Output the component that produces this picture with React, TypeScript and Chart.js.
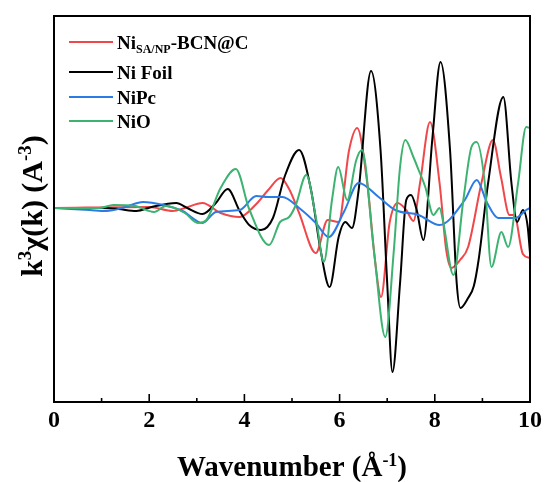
import React, { useEffect, useRef } from 'react';
import { Chart, registerables } from 'chart.js';

Chart.register(...registerables);

const FAMILY = '"Liberation Serif", "Times New Roman", Times, serif';

// Series: Ni_SA/NP-BCN@C (red)
const kRed = [0, 2.0, 2.5, 2.75, 3.12, 3.5, 3.9, 4.25, 4.5, 4.76, 4.95, 5.15, 5.5, 5.75, 5.98, 6.2, 6.37, 6.58, 6.75, 6.87, 7.05, 7.22, 7.4, 7.55, 7.69, 7.9, 8.1, 8.24, 8.35, 8.53, 8.7, 8.98, 9.22, 9.39, 9.57, 9.67, 9.85, 10];
const yRed = [0, 0.1, -0.3, 0, 0.5, -0.5, -0.9, 0.4, 1.8, 3.0, 1.8, -0.5, -4.5, -1.2, -1.4, 5.8, 8.0, 2.5, -5.5, -8.9, -1.5, 0.5, -0.2, -1.3, 2.5, 8.6, 2.5, -4.2, -6.0, -5.2, -3.9, 2.5, 6.8, 3.1, -0.7, -0.7, -4.6, -5.0];

// Series: Ni Foil (black)
const kBlack = [0, 1.0, 1.35, 1.73, 2.05, 2.57, 2.8, 3.12, 3.4, 3.65, 3.9, 4.1, 4.35, 4.6, 4.85, 5.15, 5.4, 5.6, 5.79, 5.98, 6.12, 6.26, 6.4, 6.66, 6.86, 7.0, 7.11, 7.27, 7.4, 7.5, 7.62, 7.76, 7.95, 8.12, 8.32, 8.46, 8.54, 8.7, 8.82, 8.92, 9.12, 9.44, 9.61, 9.73, 9.85, 9.95, 10];
const yBlack = [0, 0, -0.1, -0.3, 0.1, 0.5, 0, -0.6, 0.5, 1.9, -0.3, -1.7, -2.2, -1.0, 3.2, 5.8, 1.8, -4.2, -7.9, -2.9, -1.4, -2.0, 1.8, 13.7, 5.8, -7.5, -16.4, -7.5, 0.8, 1.3, -0.2, -3.2, 7.0, 14.6, 5.8, -7.5, -10.0, -9.0, -7.8, -5.2, 2.5, 11.1, 2.5, -1.4, -0.2, -1.8, -4.5];

// Series: NiPc (blue)
const kBlue = [0, 0.75, 1.1, 1.5, 1.87, 2.3, 2.7, 3.12, 3.4, 3.9, 4.25, 4.5, 4.8, 5.15, 5.5, 5.77, 6.1, 6.4, 6.82, 7.17, 7.66, 8.1, 8.63, 8.88, 9.1, 9.33, 9.7, 9.92, 10];
const yBlue = [0, -0.2, -0.3, 0.1, 0.6, 0.3, -0.3, -1.5, -0.4, -0.2, 1.2, 1.1, 1.1, 0, -1.5, -2.9, -0.3, 2.5, 1.1, -0.2, -0.7, -1.7, 0.8, 2.8, 0.5, -1.0, -1.0, -0.2, 0];

// Series: NiO (green)
const kGreen = [0, 0.95, 1.25, 1.7, 2.1, 2.35, 2.75, 3.02, 3.2, 3.5, 3.82, 4.1, 4.52, 4.75, 4.94, 5.08, 5.3, 5.5, 5.67, 5.84, 5.97, 6.16, 6.35, 6.47, 6.72, 6.96, 7.14, 7.27, 7.38, 7.55, 7.66, 7.8, 7.97, 8.1, 8.18, 8.39, 8.6, 8.77, 8.88, 9.05, 9.19, 9.4, 9.54, 9.75, 9.92, 10];
const yGreen = [0, 0, 0.3, 0.2, -0.4, 0.2, -0.5, -1.5, -1.2, 2.0, 3.9, -0.1, -3.7, -1.4, -0.9, 0.3, 3.3, -0.9, -5.4, 0.8, 4.1, 0.8, 4.8, 5.8, -4.2, -12.9, -4.2, 4.1, 6.8, 5.1, 3.8, 2.1, -0.7, 0, -1.5, -6.7, 0.8, 6.1, 6.6, 2.5, -5.9, -2.4, -3.9, 2.5, 8.1, 8.0];

const xTicks = [0, 2, 4, 6, 8, 10];
const minorTicks = [1, 3, 5, 7, 9];

const COLORS = { red: '#f0474b', black: '#000000', blue: '#2b7be4', green: '#3cb371' };

type Seg = { t: string; s?: 'sup' | 'sub' };

const legendRows: { color: string; segs: Seg[] }[] = [
  { color: COLORS.red, segs: [{ t: 'Ni' }, { t: 'SA/NP', s: 'sub' }, { t: '-BCN@C' }] },
  { color: COLORS.black, segs: [{ t: 'Ni Foil' }] },
  { color: COLORS.blue, segs: [{ t: 'NiPc' }] },
  { color: COLORS.green, segs: [{ t: 'NiO' }] },
];

const yTitle: Seg[] = [{ t: 'k' }, { t: '3', s: 'sup' }, { t: 'χ(k) (A' }, { t: '-3', s: 'sup' }, { t: ')' }];
const xTitle: Seg[] = [{ t: 'Wavenumber (Å' }, { t: '-1', s: 'sup' }, { t: ')' }];

function drawRich(ctx: CanvasRenderingContext2D, segs: Seg[], x: number, y: number, size: number, align: 'left' | 'center', smallRatio = 0.62) {
  const small = Math.round(size * smallRatio);
  const fontOf = (sz: number) => `bold ${sz}px ${FAMILY}`;
  let total = 0;
  const widths = segs.map((sg) => {
    ctx.font = fontOf(sg.s ? small : size);
    const w = ctx.measureText(sg.t).width;
    total += w;
    return w;
  });
  let cx = align === 'center' ? x - total / 2 : x;
  ctx.textBaseline = 'alphabetic';
  ctx.textAlign = 'left';
  segs.forEach((sg, i) => {
    ctx.font = fontOf(sg.s ? small : size);
    const dy = sg.s === 'sup' ? -size * 0.36 : sg.s === 'sub' ? size * 0.22 : 0;
    ctx.fillText(sg.t, cx, y + dy);
    cx += widths[i];
  });
}

const decorPlugin = {
  id: 'decor',
  afterDraw(chart: any) {
    const { ctx, chartArea } = chart;
    const xs = chart.scales.x;
    ctx.save();
    // frame
    ctx.strokeStyle = '#000';
    ctx.lineWidth = 2;
    ctx.strokeRect(chartArea.left, chartArea.top, chartArea.right - chartArea.left, chartArea.bottom - chartArea.top);
    // inward ticks on bottom axis
    ctx.lineWidth = 1.6;
    xTicks.forEach((v) => {
      const px = xs.getPixelForValue(v);
      ctx.beginPath();
      ctx.moveTo(px, chartArea.bottom);
      ctx.lineTo(px, chartArea.bottom - 8);
      ctx.stroke();
    });
    minorTicks.forEach((v) => {
      const px = xs.getPixelForValue(v);
      ctx.beginPath();
      ctx.moveTo(px, chartArea.bottom);
      ctx.lineTo(px, chartArea.bottom - 4);
      ctx.stroke();
    });
    // legend
    const lx1 = chartArea.left + 15;
    const lx2 = chartArea.left + 59;
    const tx = chartArea.left + 63;
    const rowsY = [26, 56, 81, 105];
    legendRows.forEach((row, i) => {
      const y = chartArea.top + rowsY[i];
      ctx.strokeStyle = row.color;
      ctx.lineWidth = 2;
      ctx.beginPath();
      ctx.moveTo(lx1, y);
      ctx.lineTo(lx2, y);
      ctx.stroke();
      ctx.fillStyle = '#000';
      drawRich(ctx, row.segs, tx, y + 6.5, 19, 'left', 0.64);
    });
    // axis titles
    ctx.fillStyle = '#000';
    drawRich(ctx, xTitle, (chartArea.left + chartArea.right) / 2, 476, 29, 'center');
    ctx.save();
    ctx.translate(42, 206);
    ctx.rotate(-Math.PI / 2);
    drawRich(ctx, yTitle, 0, 0, 30, 'center');
    ctx.restore();
    ctx.restore();
  },
};

function pts(k: number[], y: number[]) {
  return k.map((x, i) => ({ x, y: y[i] }));
}

export default function App() {
  const ref = useRef<HTMLCanvasElement | null>(null);
  useEffect(() => {
    if (!ref.current) return;
    const common = { pointRadius: 0, borderWidth: 2, cubicInterpolationMode: 'monotone' as const, fill: false };
    const chart = new Chart(ref.current, {
      type: 'line',
      data: {
        datasets: [
          { label: 'Ni SA/NP-BCN@C', data: pts(kRed, yRed), borderColor: COLORS.red, order: 3, ...common },
          { label: 'Ni Foil', data: pts(kBlack, yBlack), borderColor: COLORS.black, order: 2, ...common },
          { label: 'NiPc', data: pts(kBlue, yBlue), borderColor: COLORS.blue, order: 1, ...common },
          { label: 'NiO', data: pts(kGreen, yGreen), borderColor: COLORS.green, order: 0, ...common },
        ],
      },
      options: {
        responsive: false,
        animation: false,
        layout: { padding: { left: 0, top: 16, right: 14, bottom: 0 } },
        plugins: { legend: { display: false }, tooltip: { enabled: false } },
        scales: {
          x: {
            type: 'linear',
            min: 0,
            max: 10,
            grid: { display: false, drawTicks: false },
            border: { display: false },
            ticks: {
              stepSize: 2,
              autoSkip: false,
              maxRotation: 0,
              padding: 4,
              color: '#000',
              font: { family: FAMILY, size: 24, weight: 'bold' },
            },
            afterFit: (s: any) => { s.height = 80; },
          },
          y: {
            type: 'linear',
            min: -19.4,
            max: 19.2,
            grid: { display: false, drawTicks: false },
            border: { display: false },
            ticks: { display: false },
            afterFit: (s: any) => { s.width = 54; },
          },
        },
      },
      plugins: [decorPlugin],
    });
    return () => chart.destroy();
  }, []);
  return (
    <div style={{ position: 'absolute', left: 0, top: 0, width: 546, height: 482, background: '#fff' }}>
      <canvas ref={ref} width={546} height={482} />
    </div>
  );
}
